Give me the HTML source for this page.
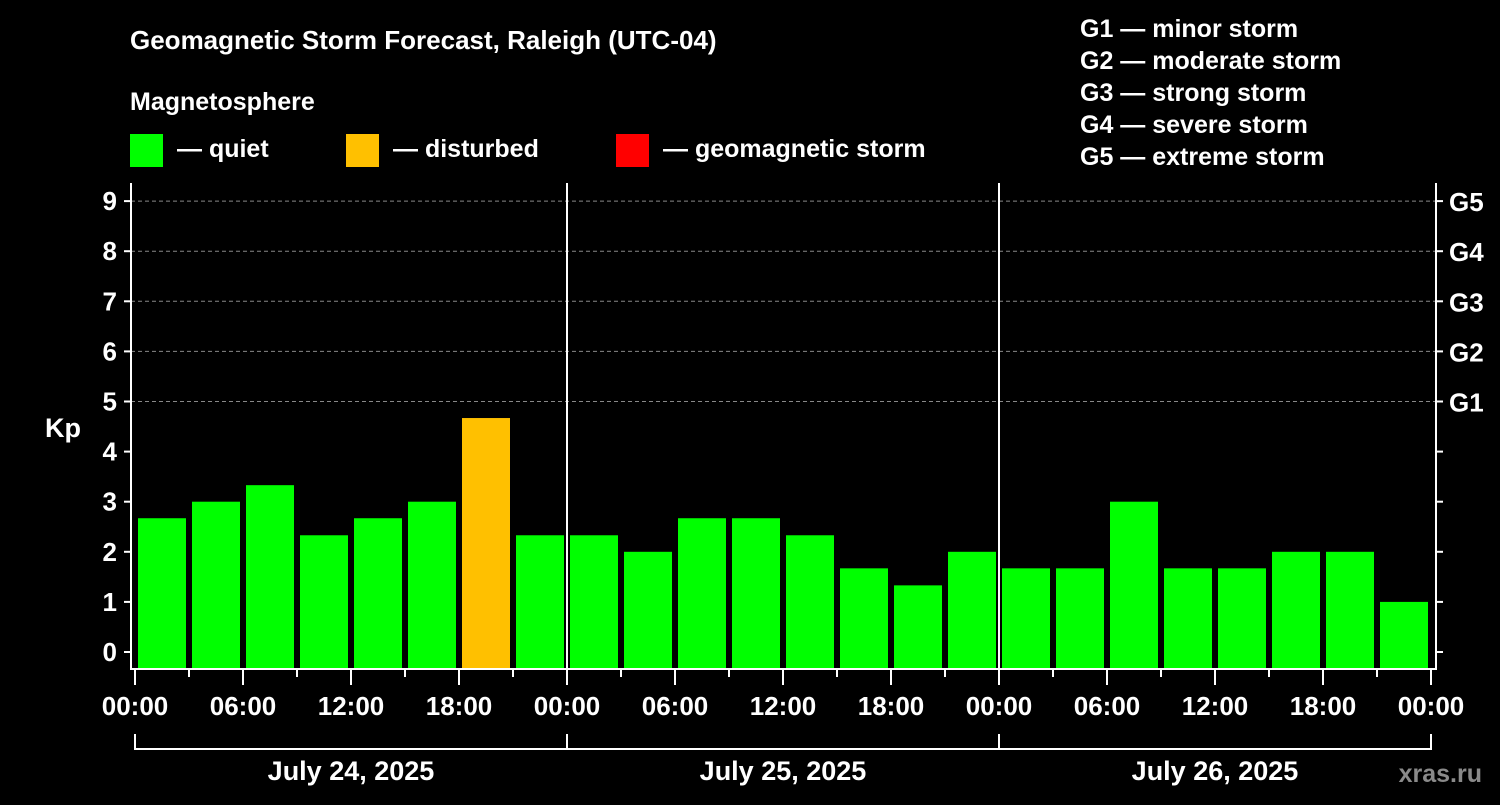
<!DOCTYPE html>
<html><head><meta charset="utf-8"><style>
body{margin:0;background:#000;}
svg text{font-family:"Liberation Sans",Arial,sans-serif;font-weight:bold;fill:#fff;}
</style></head><body>
<svg id="chart" width="1500" height="800" viewBox="0 0 1500 800" xmlns="http://www.w3.org/2000/svg">
<rect width="1500" height="800" fill="#000"/>
<text x="130" y="49" font-size="26">Geomagnetic Storm Forecast, Raleigh (UTC-04)</text>
<text x="130" y="110" font-size="25">Magnetosphere</text>
<g>
<rect x="130" y="134" width="33" height="33" fill="#00ff00"/>
<text x="177" y="157" font-size="25">— quiet</text>
<rect x="346" y="134" width="33" height="33" fill="#ffc000"/>
<text x="393" y="157" font-size="25">— disturbed</text>
<rect x="616" y="134" width="33" height="33" fill="#ff0000"/>
<text x="663" y="157" font-size="25">— geomagnetic storm</text>
</g>
<g font-size="25">
<text x="1080" y="37">G1 — minor storm</text>
<text x="1080" y="69">G2 — moderate storm</text>
<text x="1080" y="101">G3 — strong storm</text>
<text x="1080" y="133">G4 — severe storm</text>
<text x="1080" y="165">G5 — extreme storm</text>
</g>
<text x="63" y="437" font-size="27" text-anchor="middle">Kp</text>
<defs><clipPath id="plotclip"><rect x="132" y="183" width="1296" height="485"/></clipPath></defs>
<g id="grid"></g>
<g id="bars" clip-path="url(#plotclip)"></g>
<g id="axes"></g>
<text x="1482" y="782" font-size="25" text-anchor="end" fill="#888" style="fill:#8a8a8a">xras.ru</text>
</svg>
<script>
const kpValues=[2.67,3,3.33,2.33,2.67,3,4.67,2.33,2.33,2,2.67,2.67,2.33,1.67,1.33,2,1.67,1.67,3,1.67,1.67,2,2,1,1];
const dayLabels=["July 24, 2025","July 25, 2025","July 26, 2025"];
const hourLabels=["00:00","06:00","12:00","18:00"];
const gLabels=["G1","G2","G3","G4","G5"];
const kpTicks=[0,1,2,3,4,5,6,7,8,9];

const NS="http://www.w3.org/2000/svg";
const X0=135,DAY=432,HR=DAY/24;
const xh=h=>X0+h*HR;
const yk=k=>652-50.1*k;
function mk(tag,attrs,parent){const e=document.createElementNS(NS,tag);for(const a in attrs)e.setAttribute(a,attrs[a]);parent.appendChild(e);return e;}
const grid=document.getElementById('grid'),bars=document.getElementById('bars'),axes=document.getElementById('axes');
const L=131,R=1436,T=183,B=669;
// grid lines
[5,6,7,8,9].forEach(k=>{const l=mk('line',{x1:L,x2:R,y1:yk(k),y2:yk(k),stroke:'#888','stroke-dasharray':'4,3','stroke-width':1},grid);

});
// bars
kpValues.forEach((v,i)=>{const c=xh(1.5+3*i)-HR*0.5;const color=v>=5?'#ff0000':(v>=4?'#ffc000':'#00ff00');
const r=mk('rect',{x:c-24+9,y:yk(v),width:48,height:B-1-yk(v),fill:color},bars);

});
// frame
const f=mk('path',{d:`M${L},${T}V${B}H${R}V${T}`,stroke:'#fff','stroke-width':2,fill:'none'},axes);


[1,2].forEach(d=>{const l=mk('line',{x1:xh(24*d),x2:xh(24*d),y1:T,y2:B,stroke:'#fff','stroke-width':2},axes);

});
// y ticks
kpTicks.forEach(k=>{mk('line',{x1:L-7,x2:L,y1:yk(k),y2:yk(k),stroke:'#fff','stroke-width':2},axes);
mk('line',{x1:R,x2:R+7,y1:yk(k),y2:yk(k),stroke:'#fff','stroke-width':2},axes);
const t=mk('text',{x:L-14,y:yk(k)+9,'font-size':26,'text-anchor':'end'},axes);t.textContent=k;

});
gLabels.forEach((g,i)=>{const t=mk('text',{x:R+13,y:yk(5+i)+10,'font-size':26},axes);t.textContent=g;

});
// x ticks
for(let h=0;h<=72;h+=3){const long=h%6===0;mk('line',{x1:xh(h),x2:xh(h),y1:B,y2:B+(long?16:8),stroke:'#fff','stroke-width':2},axes);
if(long){const t=mk('text',{x:xh(h),y:715,'font-size':26,'text-anchor':'middle'},axes);t.textContent=hourLabels[(h/6)%4];

}}
// date bracket
mk('path',{d:`M${xh(0)},734V749H${xh(72)}V734`,stroke:'#fff','stroke-width':2,fill:'none'},axes);
dayLabels.forEach((d,i)=>{mk('line',{x1:xh(24*i),x2:xh(24*i),y1:734,y2:749,stroke:'#fff','stroke-width':2},axes);
const t=mk('text',{x:xh(24*i+12),y:780,'font-size':27,'text-anchor':'middle'},axes);t.textContent=d;

});
</script>
</body></html>
